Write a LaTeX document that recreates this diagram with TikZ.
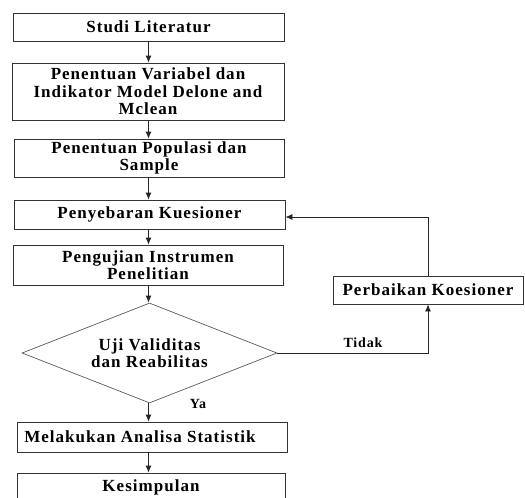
\documentclass[tikz,border=0pt]{standalone}
\usepackage{fontspec}
\setmainfont{Liberation Serif}
\usetikzlibrary{shapes.geometric,arrows.meta}

\begin{document}
\begin{tikzpicture}[x=1pt, y=-1pt,
    box/.style={draw=black!80, line width=0.8pt, inner sep=0pt, align=center,
        font=\fontsize{17}{17.5}\selectfont\bfseries\addfontfeature{LetterSpace=6}},
    decision/.style={diamond, aspect=2.55, draw=black!65, line width=0.7pt, inner sep=0pt, align=center,
        font=\fontsize{17}{17.5}\selectfont\bfseries\addfontfeature{LetterSpace=6}},
    flow/.style={draw=black!85, line width=0.8pt, -{Latex[length=7pt,width=6pt]}},
    lbl/.style={font=\fontsize{14}{14}\selectfont\bfseries\addfontfeature{LetterSpace=6}}]

    % Page size
    \useasboundingbox (0,0) rectangle (525,498);

    % Main steps
    \node[box, minimum width=271pt, minimum height=28pt] (studi) at (148.5,27) {Studi Literatur};
    \node[box, minimum width=272pt, minimum height=57pt] (variabel) at (148,91.5)
        {Penentuan Variabel dan\\Indikator Model Delone and\\Mclean};
    \node[box, minimum width=270pt, minimum height=38pt] (populasi) at (149,158)
        {Penentuan Populasi dan\\Sample};
    \node[box, minimum width=271pt, minimum height=29pt] (sebar) at (149.5,214.5) {Penyebaran Kuesioner};
    \node[box, minimum width=270pt, minimum height=40pt] (instrumen) at (148,265)
        {Pengujian Instrumen\\Penelitian};

    % Decision
    \node[decision, minimum width=255pt, minimum height=100pt] (uji) at (149.5,353)
        {Uji Validitas\\dan Reabilitas};

    \node[box, minimum width=270pt, minimum height=30pt] (analisa) at (152,437)
        {Melakukan Analisa Statistik\hspace*{24pt}};
    \node[box, minimum width=268pt, minimum height=28pt] (simpul) at (151,487) {Kesimpulan};

    % Revision step
    \node[box, minimum width=190pt, minimum height=28pt] (perbaikan) at (428,290) {Perbaikan Koesioner};

    % Arrows down the main column
    \draw[flow] (studi.south) -- (studi.south |- variabel.north);
    \draw[flow] (studi.south |- variabel.south) -- (studi.south |- populasi.north);
    \draw[flow] (studi.south |- populasi.south) -- (studi.south |- sebar.north);
    \draw[flow] (studi.south |- sebar.south) -- (studi.south |- instrumen.north);
    \draw[flow] (studi.south |- instrumen.south) -- (studi.south |- uji.north);
    \draw[flow] (studi.south |- uji.south) -- (studi.south |- analisa.north);
    \draw[flow] (studi.south |- analisa.south) -- (studi.south |- simpul.north);

    % Loop back
    \draw[flow] (uji.east) -| (perbaikan.south);
    \draw[flow] (perbaikan.north) |- ([yshift=-2.5pt]sebar.east);

    % Labels
    \node[lbl] (tidak) at (363,343) {Tidak};
    \node[lbl] (ya) at (198,404) {Ya};

\end{tikzpicture}
\end{document}
